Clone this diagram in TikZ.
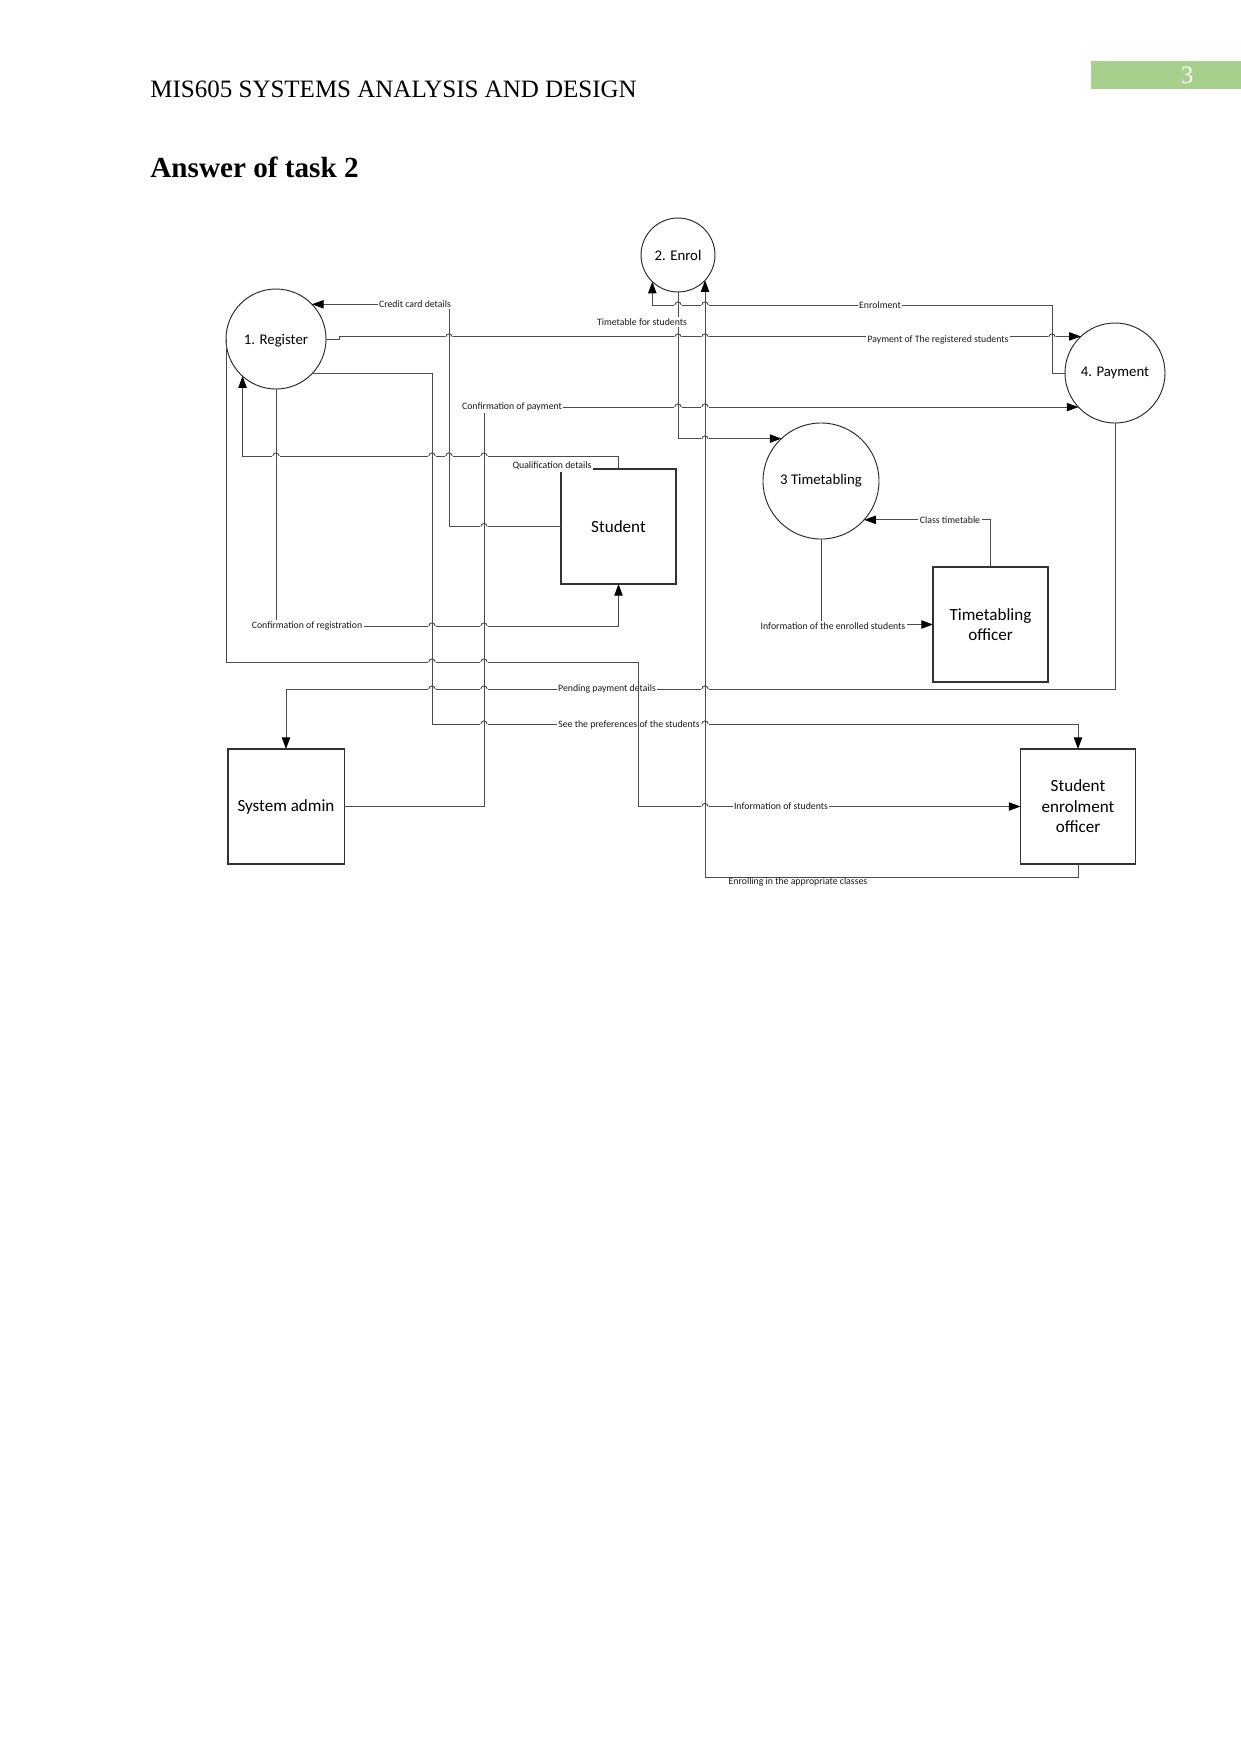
\documentclass[tikz,border=0pt]{standalone}
\usepackage{fontspec}
\setmainfont{Liberation Serif}
\newfontfamily\diagfont{Carlito}
\usetikzlibrary{arrows.meta}
\definecolor{linec}{RGB}{75,75,75}
\definecolor{hdrgreen}{RGB}{168,208,141}
\newcommand\hopat[2]{%
  \fill[white] (#1-3.6,#2-1.2) rectangle (#1+3.6,#2+1.2);
  \draw[flow] ([xshift=-1.5pt]#1,#2) arc[start angle=180,end angle=0,radius=1.5pt];
  \draw[flow] (#1,#2-6) -- (#1,#2+6);}
\begin{document}
\begin{tikzpicture}[x=0.48pt,y=-0.48pt,
  flow/.style={draw=linec, line width=0.45pt},
  arr/.style={flow, -{Triangle[length=5.6pt,width=4pt,color=black,fill=black]}},
  proc/.style={circle, draw=black!85, line width=0.45pt, inner sep=0pt, outer sep=0pt,
    font=\diagfont\fontsize{7.1}{8.5}\selectfont},
  ent/.style={rectangle, draw=black!80, line width=0.5pt, inner sep=0pt, outer sep=0pt,
    minimum width=55.2pt, minimum height=55.2pt, align=center,
    font=\diagfont\fontsize{8.2}{9.8}\selectfont},
  lbl/.style={fill=white, inner sep=0.7pt, text=black!90,
    font=\diagfont\fontsize{4.7}{5.6}\selectfont}]
\useasboundingbox (0,0) rectangle (1241,1754);

% page header
\fill[hdrgreen] (1091,61) rectangle (1241,89);
\node[text=white, inner sep=0pt, anchor=base, font=\fontsize{12}{14}\selectfont] (pgnum) at (1187,83) {3};
\node[anchor=base west, inner sep=0pt, font=\fontsize{12}{14}\selectfont] (hdr) at (150,97) {MIS605 SYSTEMS ANALYSIS AND DESIGN};
\node[anchor=base west, inner sep=0pt, font=\bfseries\fontsize{14}{17}\selectfont] (ttl) at (150,177) {Answer of task 2};

% processes
\node[proc, minimum size=48pt] (reg) at (276,339) {};
\node[font=\diagfont\fontsize{7.1}{8.5}\selectfont, inner sep=0pt] (regtxt) at (276,340.5) {1. Register};
\node[proc, minimum size=35.5pt] (enrol) at (678,255) {2. Enrol};
\node[proc, minimum size=48pt] (pay) at (1115,373) {4. Payment};
\node[proc, minimum size=55.7pt] (tt) at (821,481) {3 Timetabling};

% entities
\node[ent] (student) at (618.5,526.5) {Student};
\node[ent] (tto) at (990.5,624.5) {Timetabling\\officer};
\node[ent, minimum width=55.7pt] (sysadmin) at (286,806.5) {System admin};
\node[ent] (seo) at (1078,806.5) {Student\\enrolment\\officer};

% helper coordinates for bends
\coordinate (x449) at (449,0);
\coordinate (x484) at (484,0);
\coordinate (x432) at (432,0);
\coordinate (x638) at (638,0);
\coordinate (x1052) at (1052,0);
\coordinate (y305) at (0,305);
\coordinate (y456) at (0,456);
\coordinate (y626) at (0,626);
\coordinate (y662) at (0,662);
\coordinate (y689) at (0,689);
\coordinate (y724) at (0,724);
\coordinate (y877) at (0,877);

% connectors
\draw[arr] (student.west) -| (x449 |- reg.44.43) -- (reg.44.43);
\draw[arr] (reg.east) -- ++(13,0) |- (pay.133.95);
\draw[arr] (pay.west) -| (x1052 |- y305) -| (enrol.-134.64);
\draw[arr] (enrol.south) |- (tt.133.6);
\draw[arr] (seo.south) |- (enrol.-43.14 |- y877) -- (enrol.-43.14);
\draw[arr] (sysadmin.east) -| (x484 |- pay.-137.16) -- (pay.-137.16);
\draw[arr] (student.north) |- (reg.-132.84 |- y456) -- (reg.-132.84);
\draw[arr] (reg.south) |- (student.south |- y626) -- (student.south);
\draw[arr] (reg.-44.43) -| (x432 |- y724) -| (seo.north);
\draw[arr] (reg.west) |- (x638 |- y662) |- (seo.west);
\draw[arr] (pay.south) |- (sysadmin.north |- y689) -- (sysadmin.north);
\draw[arr] (tto.north) |- (tt.-42.26);
\draw[arr] (tt.south) |- (tto.west);

% line hops
\hopat{678}{305}\hopat{705}{305}
\hopat{449}{337}\hopat{678}{337}\hopat{705}{337}\hopat{1052}{337}
\hopat{678}{407}\hopat{705}{407}
\hopat{705}{439}
\hopat{276}{456}\hopat{432}{456}\hopat{449}{456}\hopat{484}{456}
\hopat{484}{526.5}
\hopat{432}{626}\hopat{484}{626}
\hopat{432}{662}\hopat{484}{662}
\hopat{432}{689}\hopat{484}{689}\hopat{705}{689}
\hopat{484}{724}\hopat{705}{724}
\hopat{705}{806.5}

% connector labels
\node[lbl] (lcc) at (415,304) {Credit card details};
\node[lbl] (ltfs) at (642,322) {Timetable for students};
\node[lbl] (lenr) at (880,305) {Enrolment};
\node[lbl] (lpay) at (938,339.5) {Payment of The registered students};
\node[lbl] (lcp) at (512,407) {Confirmation of payment};
\node[lbl] (lqd) at (552,466) {Qualification details};
\node[lbl] (lct) at (950,520) {Class timetable};
\node[lbl] (lcr) at (307,626) {Confirmation of registration};
\node[lbl] (lie) at (833,626) {Information of the enrolled students};
\node[lbl] (lpp) at (607,689) {Pending payment details};
\node[lbl] (lsp) at (629,725) {See the preferences of the students};
\node[lbl] (lis) at (781,806.5) {Information of students};
\node[lbl, fill=none] (lea) at (798,881.5) {Enrolling in the appropriate classes};
\draw[flow] (x638 |- lpp.north) -- (x638 |- lpp.south);
\draw[flow] (x638 |- lsp.north) -- (x638 |- lsp.south);
\end{tikzpicture}
\end{document}
